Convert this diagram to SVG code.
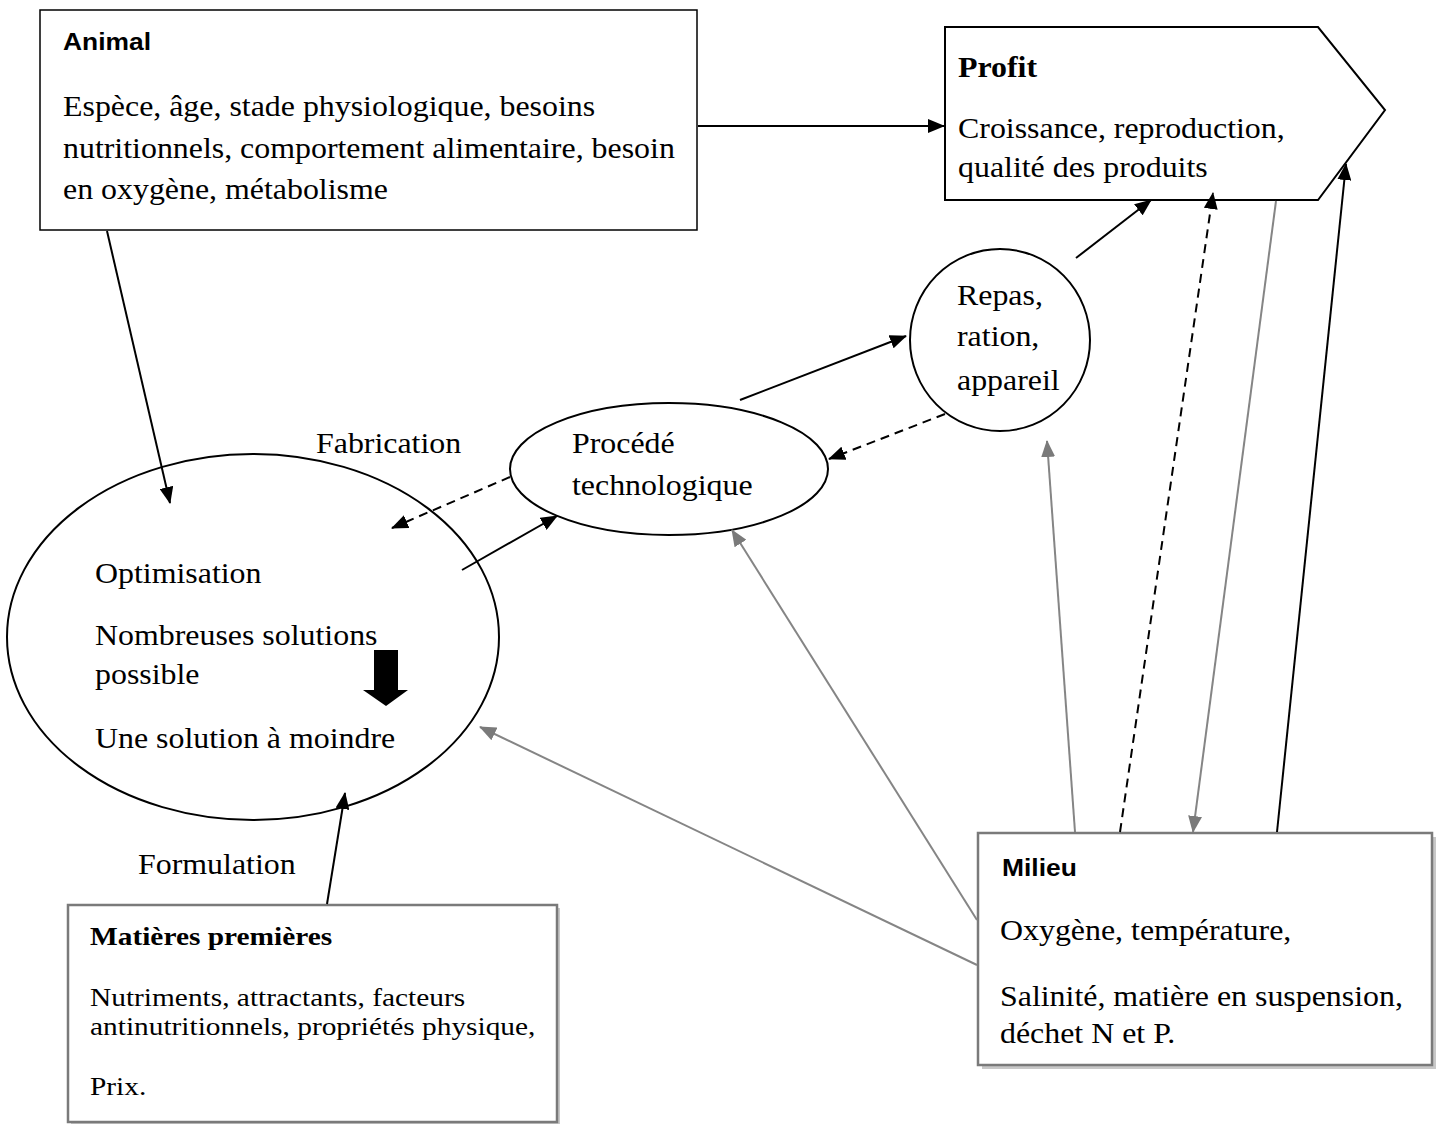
<svg xmlns="http://www.w3.org/2000/svg" width="1441" height="1124" viewBox="0 0 1441 1124">
<style>
.t{font-family:"Liberation Serif","Times New Roman",serif;font-size:29px;fill:#000}
.ts{font-family:"Liberation Serif","Times New Roman",serif;font-size:26px;fill:#000}
.hs{font-family:"Liberation Sans",Arial,sans-serif;font-size:24px;font-weight:bold;fill:#000}
.hb{font-family:"Liberation Serif","Times New Roman",serif;font-weight:bold;fill:#000}
.box{fill:#fff;stroke:#000;stroke-width:1.5}
.gbox{fill:#fff;stroke:#7a7a7a;stroke-width:2.5}
.sh{fill:#c8c8c8}
.c{stroke:#000;stroke-width:2;fill:none}
.d{stroke:#000;stroke-width:2;fill:none;stroke-dasharray:9,6}
.g{stroke:#858585;stroke-width:2;fill:none}
</style>
<defs>
<marker id="ab" markerUnits="userSpaceOnUse" markerWidth="18" markerHeight="14" refX="16" refY="7" orient="auto"><path d="M0,0 L17,7 L0,14 Z" fill="#000"/></marker>
<marker id="ag" markerUnits="userSpaceOnUse" markerWidth="18" markerHeight="14" refX="16" refY="7" orient="auto"><path d="M0,0 L17,7 L0,14 Z" fill="#7a7a7a"/></marker>
</defs>
<rect width="1441" height="1124" fill="#fff"/>

<g id="animal">
<rect class="box" x="40" y="10" width="657" height="220"/>
<text class="hs" transform="translate(63,50) scale(1.1,1)">Animal</text>
<text class="t" transform="translate(63,116) scale(1.1,1)">Espèce, âge, stade physiologique, besoins</text>
<text class="t" transform="translate(63,158) scale(1.1,1)">nutritionnels, comportement alimentaire, besoin</text>
<text class="t" transform="translate(63,199) scale(1.1,1)">en oxygène, métabolisme</text>
</g>

<g id="profit">
<polygon points="945,27 1318,27 1385,110 1318,200 945,200" fill="#fff" stroke="#000" stroke-width="2"/>
<text class="hb" font-size="29" transform="translate(958,77) scale(1.1,1)">Profit</text>
<text class="t" transform="translate(958,138) scale(1.1,1)">Croissance, reproduction,</text>
<text class="t" transform="translate(958,177) scale(1.1,1)">qualité des produits</text>
</g>

<g id="repas">
<ellipse cx="1000" cy="340" rx="90" ry="91" fill="#fff" stroke="#000" stroke-width="2"/>
<text class="t" transform="translate(957,305) scale(1.1,1)">Repas,</text>
<text class="t" transform="translate(957,346) scale(1.1,1)">ration,</text>
<text class="t" transform="translate(957,390) scale(1.1,1)">appareil</text>
</g>

<g id="procede">
<ellipse cx="669" cy="469" rx="159" ry="66" fill="#fff" stroke="#000" stroke-width="2"/>
<text class="t" transform="translate(572,453) scale(1.1,1)">Procédé</text>
<text class="t" transform="translate(572,495) scale(1.1,1)">technologique</text>
</g>

<g id="fabrication">
<text class="t" transform="translate(316,453) scale(1.1,1)">Fabrication</text>
</g>

<g id="optimisation">
<ellipse cx="253" cy="637" rx="246" ry="183" fill="#fff" stroke="#000" stroke-width="2"/>
<text class="t" transform="translate(95,583) scale(1.1,1)">Optimisation</text>
<text class="t" transform="translate(95,645) scale(1.1,1)">Nombreuses solutions</text>
<text class="t" transform="translate(95,684) scale(1.1,1)">possible</text>
<text class="t" transform="translate(95,748) scale(1.1,1)">Une solution à moindre</text>
<polygon points="374,650 398,650 398,690 408,690 386,706 363,690 374,690" fill="#000"/>
</g>

<g id="formulation">
<text class="t" transform="translate(138,874) scale(1.1,1)">Formulation</text>
</g>

<g id="matieres">
<rect class="sh" x="71" y="908" width="489" height="220"/>
<rect class="gbox" x="68" y="905" width="489" height="217"/>
<text class="hb" font-size="26" transform="translate(90,945) scale(1.13,1)">Matières premières</text>
<text class="ts" transform="translate(90,1006) scale(1.13,1)">Nutriments, attractants, facteurs</text>
<text class="ts" transform="translate(90,1035) scale(1.13,1)">antinutritionnels, propriétés physique,</text>
<text class="ts" transform="translate(90,1095) scale(1.13,1)">Prix.</text>
</g>

<g id="milieu">
<rect class="sh" x="982" y="837" width="454" height="232"/>
<rect class="gbox" x="978" y="833" width="454" height="232"/>
<text class="hs" transform="translate(1002,876) scale(1.1,1)">Milieu</text>
<text class="t" transform="translate(1000,940) scale(1.1,1)">Oxygène, température,</text>
<text class="t" transform="translate(1000,1006) scale(1.1,1)">Salinité, matière en suspension,</text>
<text class="t" transform="translate(1000,1043) scale(1.1,1)">déchet N et P.</text>
</g>

<g id="connectors">
<line class="c" x1="107" y1="231" x2="170" y2="503" marker-end="url(#ab)"/>
<line class="c" x1="698" y1="126" x2="944" y2="126" marker-end="url(#ab)"/>
<line class="c" x1="462" y1="570" x2="557" y2="516" marker-end="url(#ab)"/>
<line class="d" x1="510" y1="477" x2="392" y2="528" marker-end="url(#ab)"/>
<line class="c" x1="740" y1="400" x2="906" y2="336" marker-end="url(#ab)"/>
<line class="d" x1="945" y1="414" x2="829" y2="459" marker-end="url(#ab)"/>
<line class="c" x1="1076" y1="258" x2="1151" y2="200" marker-end="url(#ab)"/>
<line class="d" x1="1120" y1="832" x2="1213" y2="193" marker-end="url(#ab)"/>
<line class="g" x1="1276" y1="201" x2="1193" y2="832" marker-end="url(#ag)"/>
<line class="c" x1="1277" y1="832" x2="1346" y2="164" marker-end="url(#ab)"/>
<line class="g" x1="1075" y1="832" x2="1047" y2="441" marker-end="url(#ag)"/>
<line class="g" x1="977" y1="920" x2="732" y2="530" marker-end="url(#ag)"/>
<line class="g" x1="977" y1="965" x2="480" y2="727" marker-end="url(#ag)"/>
<line class="c" x1="327" y1="904" x2="345" y2="793" marker-end="url(#ab)"/>
</g>
</svg>
